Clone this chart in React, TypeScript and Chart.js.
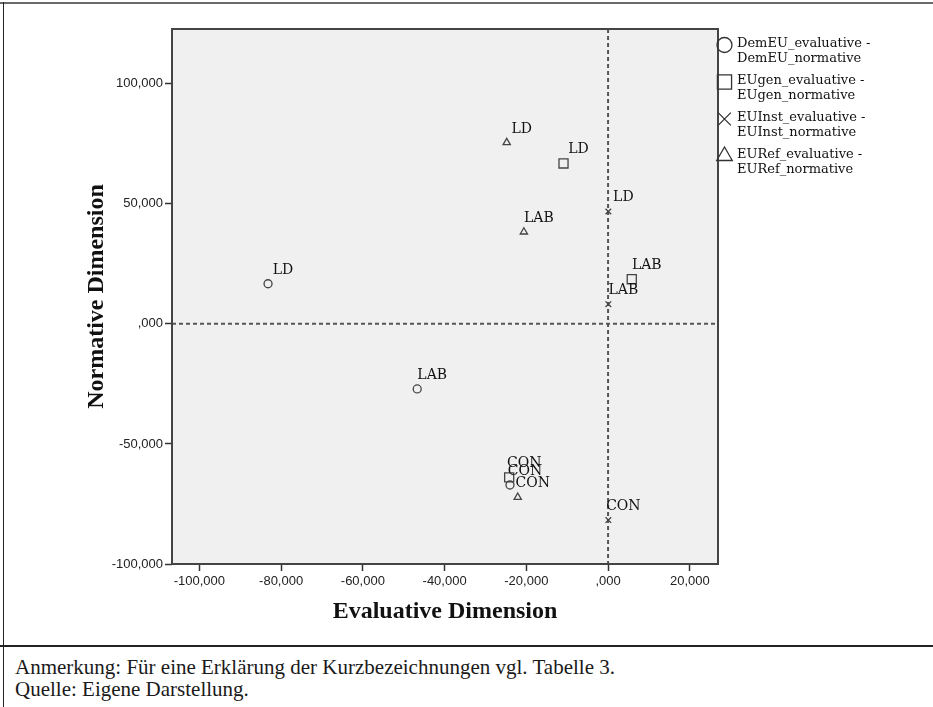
import React, { useEffect, useRef } from "react";
import { Chart, registerables } from "chart.js";
import { drawPoint } from "chart.js/helpers";

Chart.register(...registerables);

const seriesNames = [
  "DemEU_evaluative - DemEU_normative",
  "EUgen_evaluative - EUgen_normative",
  "EUInst_evaluative - EUInst_normative",
  "EURef_evaluative - EURef_normative",
];
const legendLine1 = ["DemEU_evaluative -", "EUgen_evaluative -", "EUInst_evaluative -", "EURef_evaluative -"];
const legendLine2 = ["DemEU_normative", "EUgen_normative", "EUInst_normative", "EURef_normative"];
const pointLabels = ["LD", "LAB", "CON"];

const demEUEvaluative = [-83200, -46700, -24000];
const demEUNormative = [16700, -27100, -67100];
const euGenEvaluative = [-10900, 5800, -24200];
const euGenNormative = [66800, 18600, -63900];
const euInstEvaluative = [70, 70, 70];
const euInstNormative = [46800, 8200, -81700];
const euRefEvaluative = [-24800, -20600, -22100];
const euRefNormative = [75500, 38300, -72200];

const xTickValues = [-100000, -80000, -60000, -40000, -20000, 0, 20000];
const xTickLabels = ["-100,000", "-80,000", "-60,000", "-40,000", "-20,000", ",000", "20,000"];
const yTickValues = [-100000, -50000, 0, 50000, 100000];
const yTickLabels = ["-100,000", "-50,000", ",000", "50,000", "100,000"];

const xTitle = "Evaluative Dimension";
const yTitle = "Normative Dimension";
const noteLine1 = "Anmerkung: Für eine Erklärung der Kurzbezeichnungen vgl. Tabelle 3.";
const noteLine2 = "Quelle: Eigene Darstellung.";

const pointStyles = ["circle", "rect", "crossRot", "triangle"];
const plotRadius = [4, 6.4, 4, 4.2];
const legendRadius = [7.5, 10, 9, 9];
const INK = "#444";

const seriesX = [demEUEvaluative, euGenEvaluative, euInstEvaluative, euRefEvaluative];
const seriesY = [demEUNormative, euGenNormative, euInstNormative, euRefNormative];

const decorPlugin = {
  id: "decor",
  beforeDraw(chart: any) {
    const { ctx, chartArea: a } = chart;
    ctx.save();
    ctx.fillStyle = "#f0f0f0";
    ctx.fillRect(a.left, a.top, a.right - a.left, a.bottom - a.top);
    ctx.restore();
  },
  beforeDatasetsDraw(chart: any) {
    const { ctx, chartArea: a, scales } = chart;
    const x0 = scales.x.getPixelForValue(0);
    const y0 = scales.y.getPixelForValue(0);
    ctx.save();
    ctx.strokeStyle = "#555";
    ctx.lineWidth = 2;
    ctx.setLineDash([4, 3]);
    ctx.beginPath();
    ctx.moveTo(x0, a.top);
    ctx.lineTo(x0, a.bottom);
    ctx.moveTo(a.left, y0);
    ctx.lineTo(a.right, y0);
    ctx.stroke();
    ctx.restore();
  },
  afterDatasetsDraw(chart: any) {
    const { ctx } = chart;
    ctx.save();
    ctx.font = '14px "DejaVu Serif"';
    ctx.fillStyle = "#111";
    ctx.textAlign = "center";
    ctx.textBaseline = "alphabetic";
    chart.data.datasets.forEach((_: any, di: number) => {
      const meta = chart.getDatasetMeta(di);
      meta.data.forEach((pt: any, i: number) => {
        ctx.fillText(pointLabels[i], pt.x + 15, pt.y - 10);
      });
    });
    ctx.restore();
  },
  afterDraw(chart: any) {
    const { ctx, chartArea: a } = chart;
    ctx.save();
    ctx.strokeStyle = "#444";
    ctx.lineWidth = 2;
    ctx.strokeRect(a.left, a.top, a.right - a.left, a.bottom - a.top);
    // legend
    const lx = a.right + 6.5;
    const tx = a.right + 19;
    ctx.font = '13px "DejaVu Serif"';
    ctx.fillStyle = "#111";
    ctx.textAlign = "left";
    ctx.textBaseline = "alphabetic";
    for (let i = 0; i < seriesNames.length; i++) {
      const base = 47 + 37 * i;
      ctx.fillText(legendLine1[i], tx, base);
      ctx.fillText(legendLine2[i], tx, base + 14.5);
      ctx.save();
      ctx.strokeStyle = "#333";
      ctx.fillStyle = "rgba(0,0,0,0)";
      ctx.lineWidth = 1.3;
      drawPoint(ctx, { pointStyle: pointStyles[i], radius: legendRadius[i], rotation: 0, borderWidth: 1.3 } as any, lx, base - 2);
      ctx.restore();
    }
    ctx.restore();
  },
};

export default function App() {
  const ref = useRef<HTMLCanvasElement | null>(null);

  useEffect(() => {
    if (!ref.current) return;
    const datasets = seriesNames.map((name, s) => ({
      label: name,
      data: seriesX[s].map((x, i) => ({ x, y: seriesY[s][i] })),
      pointStyle: pointStyles[s],
      pointRadius: plotRadius[s],
      pointHoverRadius: plotRadius[s],
      borderColor: INK,
      backgroundColor: "rgba(0,0,0,0)",
      pointBorderWidth: 1.3,
      showLine: false,
    }));
    const tickFont = { family: '"Liberation Sans", Arial, sans-serif', size: 13 };
    const titleFont = { family: '"Liberation Serif", "Times New Roman", serif', size: 24, weight: "bold" as const };
    const chart = new Chart(ref.current, {
      type: "scatter",
      data: { datasets } as any,
      plugins: [decorPlugin],
      options: {
        responsive: false,
        animation: false,
        devicePixelRatio: 1,
        layout: { padding: { left: 0, top: 29, right: 215, bottom: 20 } },
        plugins: { legend: { display: false }, tooltip: { enabled: false } },
        scales: {
          x: {
            type: "linear",
            min: -106700,
            max: 26900,
            afterBuildTicks: (s: any) => {
              s.ticks = xTickValues.map((v) => ({ value: v }));
            },
            afterFit: (s: any) => {
              s.height = 62;
            },
            ticks: {
              callback: (v: any) => {
                const k = xTickValues.indexOf(Number(v));
                return k >= 0 ? xTickLabels[k] : "";
              },
              font: tickFont,
              color: "#222",
              padding: 3,
              maxRotation: 0,
              autoSkip: false,
            },
            grid: { drawOnChartArea: false, drawTicks: true, tickLength: 7, tickColor: "#333", tickWidth: 1.5 },
            border: { display: false },
            title: { display: true, text: xTitle, font: titleFont, color: "#111", padding: { top: 0, bottom: 0 } },
          },
          y: {
            type: "linear",
            min: -100000,
            max: 122800,
            afterBuildTicks: (s: any) => {
              s.ticks = yTickValues.map((v) => ({ value: v }));
            },
            afterFit: (s: any) => {
              s.width = 172;
            },
            ticks: {
              callback: (v: any) => {
                const k = yTickValues.indexOf(Number(v));
                return k >= 0 ? yTickLabels[k] : "";
              },
              font: tickFont,
              color: "#222",
              padding: 2,
              autoSkip: false,
            },
            grid: { drawOnChartArea: false, drawTicks: true, tickLength: 7, tickColor: "#333", tickWidth: 1.5 },
            border: { display: false },
            title: { display: true, text: yTitle, font: titleFont, color: "#111", padding: { top: 82, bottom: 0 } },
          },
        },
      } as any,
    });
    return () => chart.destroy();
  }, []);

  const noteStyle: React.CSSProperties = {
    position: "absolute",
    left: 15,
    fontFamily: '"Liberation Serif", "Times New Roman", serif',
    fontSize: 21,
    lineHeight: "22px",
    color: "#1a1a1a",
    whiteSpace: "nowrap",
  };

  return (
    <div style={{ position: "absolute", left: 0, top: 0, width: 933, height: 707, background: "#fff", overflow: "hidden" }}>
      <canvas ref={ref} width={933} height={646} style={{ position: "absolute", left: 0, top: 0, display: "block" }} />
      <div style={{ position: "absolute", left: 0, top: 2, width: 933, height: 2, background: "#6a6a6a" }} />
      <div style={{ position: "absolute", left: 3, top: 2, width: 1, height: 705, background: "#222" }} />
      <div style={{ position: "absolute", left: 0, top: 645, width: 933, height: 2, background: "#222" }} />
      <div style={{ ...noteStyle, top: 656 }}>{noteLine1}</div>
      <div style={{ ...noteStyle, top: 678 }}>{noteLine2}</div>
    </div>
  );
}
